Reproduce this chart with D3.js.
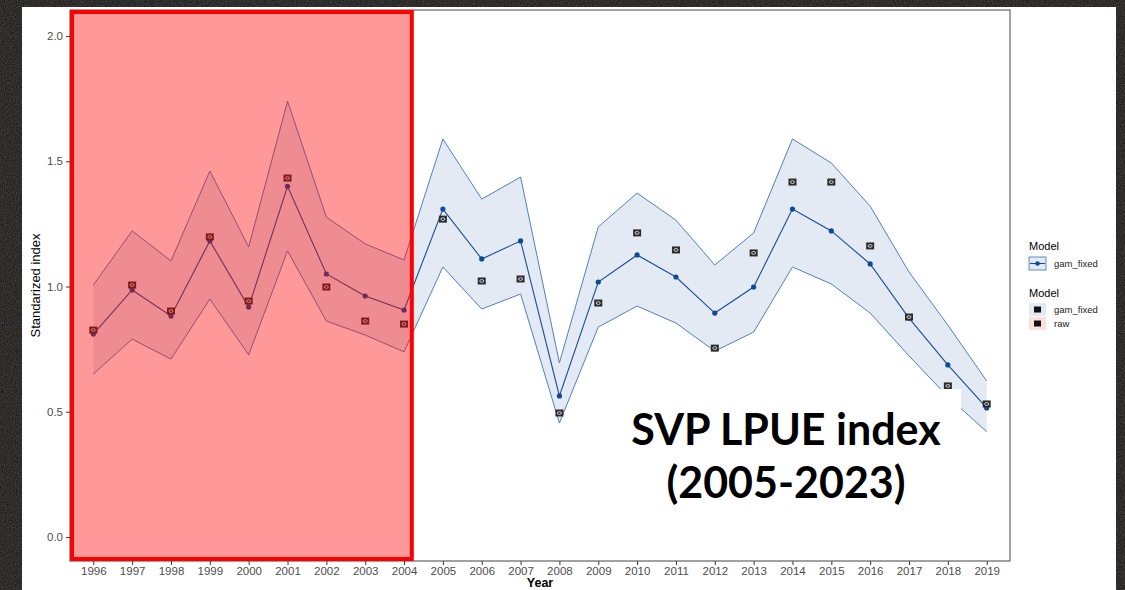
<!DOCTYPE html>
<html>
<head>
<meta charset="utf-8">
<script src="https://cdn.jsdelivr.net/npm/d3@7"></script>
<style>
    html, body { margin: 0; padding: 0; background: #111; }
    svg { display: block; }
</style>
</head>
<body>
<div class="chart"></div>
<script>
"use strict";

const years = d3.range(1996, 2020);
const fitted = [0.81, 0.986, 0.882, 1.182, 0.918, 1.40, 1.05, 0.962, 0.906, 1.309, 1.11, 1.182,
                0.563, 1.018, 1.126, 1.038, 0.894, 0.998, 1.309, 1.222, 1.09, 0.874, 0.687, 0.515];
const upper = [1.006, 1.222, 1.102, 1.461, 1.158, 1.74, 1.277, 1.17, 1.106, 1.589, 1.349, 1.437,
               0.695, 1.238, 1.373, 1.265, 1.086, 1.214, 1.589, 1.493, 1.321, 1.058, 0.846, 0.623];
const lower = [0.65, 0.79, 0.71, 0.95, 0.727, 1.142, 0.862, 0.806, 0.739, 1.078, 0.91, 0.97,
               0.455, 0.838, 0.922, 0.854, 0.742, 0.818, 1.078, 1.01, 0.894, 0.723, 0.56, 0.42];
const raw = [0.826, 1.006, 0.902, 1.198, 0.942, 1.433, 0.998, 0.862, 0.85, 1.269, 1.022, 1.03,
             0.495, 0.934, 1.214, 1.146, 0.754, 1.134, 1.417, 1.417, 1.162, 0.878, 0.603, 0.531];
const yTicks = [0.0, 0.5, 1.0, 1.5, 2.0];
const highlightYears = [1995.4, 2004.2];
const titleLines = ["SVP LPUE index", "(2005-2023)"];

const W = 1125, H = 590;
const panel = { left: 70, right: 1010, top: 10, bottom: 561 };

const svg = d3.select(".chart").append("svg")
    .attr("width", W)
    .attr("height", H);

// dark textured backdrop
const defs = svg.append("defs");
const noise = defs.append("filter").attr("id", "noise");
noise.append("feTurbulence")
    .attr("type", "fractalNoise")
    .attr("baseFrequency", 0.9)
    .attr("numOctaves", 2)
    .attr("result", "n");
noise.append("feColorMatrix")
    .attr("type", "matrix")
    .attr("values", "0 0 0 0 0.22  0 0 0 0 0.21  0 0 0 0 0.19  0 0 0 0.6 0");
svg.append("rect").attr("width", W).attr("height", H).attr("fill", "#0c0b0a");
svg.append("rect").attr("width", W).attr("height", H).attr("filter", "url(#noise)");

svg.append("rect")
    .attr("x", 22).attr("y", 7)
    .attr("width", 1116 - 22).attr("height", H - 7)
    .attr("fill", "#fff");

const x = d3.scaleLinear().domain([1995.4, 2019.6]).range([panel.left, panel.right]);
const y = d3.scaleLinear().domain([-0.096, 2.104]).range([panel.bottom, panel.top]);

const rows = years.map((yr, i) => ({ year: yr, fit: fitted[i], hi: upper[i], lo: lower[i], raw: raw[i] }));

// axes
const xAxis = svg.append("g")
    .attr("transform", `translate(0,${panel.bottom})`)
    .call(d3.axisBottom(x).tickValues(years).tickFormat(d3.format("d")).tickSize(4).tickPadding(2));
const yAxis = svg.append("g")
    .attr("transform", `translate(${panel.left},0)`)
    .call(d3.axisLeft(y).tickValues(yTicks).tickFormat(d3.format(".1f")).tickSize(4).tickPadding(3));
[xAxis, yAxis].forEach(g => {
    g.select(".domain").remove();
    g.selectAll(".tick line").attr("stroke", "#333");
    g.selectAll(".tick text")
        .attr("fill", "#4d4d4d")
        .attr("font-family", "Liberation Sans, Arial, sans-serif")
        .attr("font-size", 11.5);
});

svg.append("rect")
    .attr("x", panel.left).attr("y", panel.top)
    .attr("width", panel.right - panel.left).attr("height", panel.bottom - panel.top)
    .attr("fill", "none")
    .attr("stroke", "#555")
    .attr("stroke-width", 1.1);

svg.append("text")
    .attr("x", (panel.left + panel.right) / 2).attr("y", 587)
    .attr("text-anchor", "middle")
    .attr("font-family", "Liberation Sans, Arial, sans-serif")
    .attr("font-size", 12.5)
    .attr("font-weight", "bold")
    .text("Year");

svg.append("text")
    .attr("transform", `translate(40,${(panel.top + panel.bottom) / 2}) rotate(-90)`)
    .attr("text-anchor", "middle")
    .attr("font-family", "Liberation Sans Narrow, Liberation Sans, Arial, sans-serif")
    .attr("font-size", 13)
    .text("Standarized index");

// ribbon, fit and raw points
const area = d3.area().x(d => x(d.year)).y0(d => y(d.lo)).y1(d => y(d.hi));
svg.append("path").attr("d", area(rows)).attr("fill", "#e3eaf3");

["hi", "lo"].forEach(k => {
    svg.append("path")
        .attr("d", d3.line().x(d => x(d.year)).y(d => y(d[k]))(rows))
        .attr("fill", "none")
        .attr("stroke", "#3f73b3")
        .attr("stroke-width", 0.9);
});

svg.append("path")
    .attr("d", d3.line().x(d => x(d.year)).y(d => y(d.fit))(rows))
    .attr("fill", "none")
    .attr("stroke", "#1a4f94")
    .attr("stroke-width", 1.1);

svg.append("g").selectAll("circle")
    .data(rows)
    .join("circle")
    .attr("cx", d => x(d.year))
    .attr("cy", d => y(d.fit))
    .attr("r", 2.6)
    .attr("fill", "#0e4a96");

const rawPts = svg.append("g").selectAll("g")
    .data(rows)
    .join("g")
    .attr("transform", d => `translate(${x(d.year)},${y(d.raw)})`);
rawPts.append("rect")
    .attr("x", -4).attr("y", -3.5).attr("width", 8).attr("height", 7)
    .attr("fill", "#2b2b2b");
rawPts.append("ellipse")
    .attr("rx", 2).attr("ry", 1.4)
    .attr("fill", "none").attr("stroke", "#ddd").attr("stroke-width", 0.9);

// legend
const legend = svg.append("g")
    .attr("font-family", "Liberation Sans, Arial, sans-serif");
legend.append("text").attr("x", 1029).attr("y", 250).attr("font-size", 11).text("Model");
legend.append("rect").attr("x", 1029).attr("y", 257).attr("width", 17).attr("height", 13)
    .attr("fill", "#e3eaf3").attr("stroke", "#3f73b3").attr("stroke-width", 0.8);
legend.append("line").attr("x1", 1030).attr("x2", 1045).attr("y1", 263.5).attr("y2", 263.5)
    .attr("stroke", "#1a4f94").attr("stroke-width", 1.1);
legend.append("circle").attr("cx", 1037.5).attr("cy", 263.5).attr("r", 2.3).attr("fill", "#0e4a96");
legend.append("text").attr("x", 1054).attr("y", 267).attr("font-size", 9.5).attr("fill", "#222").text("gam_fixed");

legend.append("text").attr("x", 1029).attr("y", 297).attr("font-size", 11).text("Model");
[["gam_fixed", "#e3eaf3", 303], ["raw", "#fce0e0", 317]].forEach(([label, fill, top]) => {
    legend.append("rect").attr("x", 1029).attr("y", top).attr("width", 17).attr("height", 13).attr("fill", fill);
    legend.append("rect").attr("x", 1034).attr("y", top + 3.5).attr("width", 7).attr("height", 6).attr("fill", "#111");
    legend.append("text").attr("x", 1054).attr("y", top + 10).attr("font-size", 9.5).attr("fill", "#222").text(label);
});

// highlighted early period
svg.append("rect")
    .attr("x", x(highlightYears[0]) + 2).attr("y", panel.top + 2)
    .attr("width", x(highlightYears[1]) - x(highlightYears[0]) - 2)
    .attr("height", panel.bottom - panel.top - 4)
    .attr("fill", "rgba(255,0,0,0.4)")
    .attr("stroke", "#ff0000")
    .attr("stroke-width", 4);

// title box
svg.append("rect")
    .attr("x", 615).attr("y", 389).attr("width", 346).attr("height", 125)
    .attr("fill", "#fff");
svg.append("g").selectAll("text")
    .data(titleLines)
    .join("text")
    .attr("x", 786)
    .attr("y", (d, i) => 445 + i * 53)
    .attr("text-anchor", "middle")
    .attr("font-family", "Lato, sans-serif")
    .attr("font-weight", "bold")
    .attr("font-size", 43)
    .attr("fill", "#000")
    .text(d => d);
</script>
</body>
</html>
